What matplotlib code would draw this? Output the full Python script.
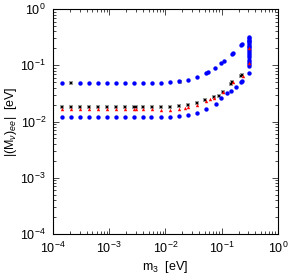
import matplotlib
matplotlib.use("Agg")
import matplotlib.pyplot as plt
from matplotlib.ticker import LogLocator, NullFormatter

plt.rcParams['font.family'] = ['Liberation Sans', 'DejaVu Sans']
plt.rcParams['mathtext.fontset'] = 'custom'
plt.rcParams['mathtext.rm'] = 'Liberation Sans'
plt.rcParams['mathtext.it'] = 'Liberation Sans:italic'

# upper blue band
m3_up = [1.45e-4, 3.05e-4, 4.4e-4, 6.4e-4, 9.2e-4, 1.33e-3, 1.93e-3, 2.79e-3, 4.03e-3,
         5.8e-3, 8.4e-3, 0.0122, 0.0176, 0.0251, 0.0363, 0.0525, 0.057, 0.076, 0.098,
         0.111, 0.152, 0.16, 0.223, 0.234,
         0.301, 0.301, 0.301, 0.301, 0.301, 0.301, 0.301, 0.301, 0.301, 0.301, 0.301,
         0.301, 0.301, 0.301, 0.301, 0.301, 0.301]
mee_up = [0.049, 0.049, 0.049, 0.049, 0.049, 0.049, 0.049, 0.049, 0.049,
          0.049, 0.049, 0.0504, 0.0525, 0.0553, 0.061, 0.072, 0.076, 0.088, 0.108,
          0.117, 0.158, 0.167, 0.229, 0.239,
          0.314, 0.300, 0.285, 0.270, 0.255, 0.240, 0.225, 0.210, 0.195, 0.180, 0.165,
          0.150, 0.138, 0.126, 0.115, 0.105, 0.097]

# lower blue band
m3_lo = [1.45e-4, 2.1e-4, 3.05e-4, 4.4e-4, 6.4e-4, 9.2e-4, 1.33e-3, 1.93e-3, 2.79e-3,
         4.03e-3, 5.5e-3, 8.4e-3, 0.0122, 0.0176, 0.0251, 0.0363, 0.0525, 0.078, 0.098,
         0.126, 0.148, 0.182, 0.223, 0.234, 0.301]
mee_lo = [0.0122, 0.0122, 0.0122, 0.0122, 0.0122, 0.0122, 0.0122, 0.0122, 0.0122,
          0.0122, 0.0122, 0.0122, 0.0122, 0.0127, 0.0133, 0.0144, 0.0169, 0.0209, 0.0261,
          0.032, 0.0355, 0.0415, 0.0497, 0.0535, 0.074]

# grey points
m3_gr = [2.1e-4, 1.45e-4, 2.1e-4, 3.05e-4, 4.4e-4, 6.4e-4, 9.2e-4, 1.33e-3, 1.93e-3,
         2.79e-3, 3.05e-3, 4.03e-3, 5.8e-3, 8.4e-3, 0.0122, 0.0176, 0.0180, 0.0251,
         0.0363, 0.0510, 0.074, 0.091, 0.106, 0.145, 0.156, 0.224, 0.23]
mee_gr = [0.049, 0.0183, 0.0183, 0.0183, 0.0183, 0.0183, 0.0183, 0.0183, 0.0183,
          0.0183, 0.0183, 0.0183, 0.0183, 0.0183, 0.0183, 0.0188, 0.0515, 0.0196,
          0.0212, 0.0238, 0.0278, 0.029, 0.0335, 0.047, 0.051, 0.0643, 0.0665]

# red points
m3_rd = [1.45e-4, 2.1e-4, 3.05e-4, 4.4e-4, 6.4e-4, 9.2e-4, 1.33e-3, 1.93e-3, 2.79e-3,
         3.05e-3, 4.03e-3, 5.8e-3, 8.4e-3, 0.0122, 0.0176, 0.0220, 0.0255, 0.0363,
         0.0530, 0.0630, 0.074, 0.104, 0.162, 0.236, 0.301, 0.301]
mee_rd = [0.0165, 0.0165, 0.0165, 0.0165, 0.0165, 0.0165, 0.0165, 0.0165, 0.0165,
          0.0165, 0.0165, 0.0165, 0.0163, 0.0163, 0.0167, 0.0172, 0.0181, 0.0196,
          0.0235, 0.0248, 0.0267, 0.0335, 0.0499, 0.0643, 0.108, 0.20]

fig = plt.figure(figsize=(2.89, 2.75), dpi=100)
ax = fig.add_axes([0.1834, 0.149, 0.778, 0.818])

ax.scatter(m3_up, mee_up, s=10, marker='o', color='#0000ff', linewidths=0, zorder=3)
ax.scatter(m3_lo, mee_lo, s=10, marker='o', color='#0000ff', linewidths=0, zorder=3)
ax.scatter(m3_gr, mee_gr, s=11, marker='s', facecolor='#999999', edgecolor='#999999',
           linewidths=0, zorder=2)
ax.scatter(m3_gr, mee_gr, s=1.5, marker='s', color='black', linewidths=0, zorder=2.5)
ax.scatter(m3_rd, mee_rd, s=6, marker='^', color='#ff0000', linewidths=0, zorder=4)

ax.set_xscale('log')
ax.set_yscale('log')
ax.set_xlim(1e-4, 1)
ax.set_ylim(1e-4, 1)
ax.xaxis.set_major_locator(LogLocator(base=10, numticks=10))
ax.yaxis.set_major_locator(LogLocator(base=10, numticks=10))
ax.xaxis.set_minor_locator(LogLocator(base=10, subs=range(2, 10), numticks=20))
ax.yaxis.set_minor_locator(LogLocator(base=10, subs=range(2, 10), numticks=20))
ax.xaxis.set_minor_formatter(NullFormatter())
ax.yaxis.set_minor_formatter(NullFormatter())
ax.tick_params(which='both', direction='in', top=True, right=True, labelsize=9,
               width=0.5)
ax.tick_params(which='major', length=4, pad=5)
ax.tick_params(which='minor', length=2)
for sp in ax.spines.values():
    sp.set_linewidth(0.8)

ax.set_xlabel(r'm$_3$  [eV]', fontsize=9, labelpad=2)
ax.set_ylabel(r'|(M$_\nu$)$_{ee}$|  [eV]', fontsize=9, labelpad=1)

fig.savefig('out.png', dpi=100)
